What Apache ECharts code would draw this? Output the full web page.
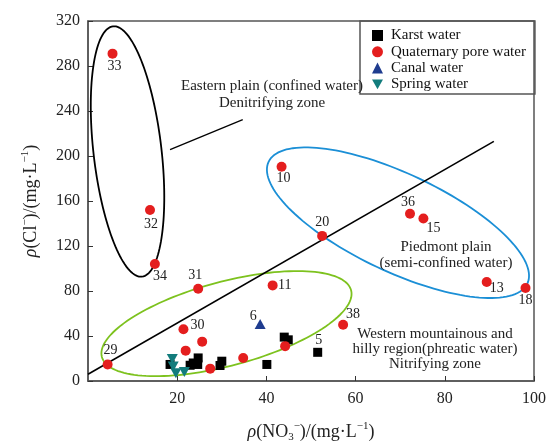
<!DOCTYPE html>
<html>
<head>
<meta charset="utf-8">
<script src="https://cdn.jsdelivr.net/npm/echarts@6/dist/echarts.min.js"></script>
<style>
  html, body { margin: 0; padding: 0; background: #fff; }
  #chart { width: 551px; height: 448px; }
</style>
</head>
<body>
<div id="chart"></div>
<script>
// Quaternary pore water (id '' = unlabelled point)
const poreX = [5.5, 13.9, 15.0, 24.7, 41.4, 21.4, 25.6, 21.9, 27.4, 34.8, 44.2, 57.2, 4.4, 43.4, 52.5, 72.2, 75.2, 89.4, 98.1];
const poreY = [291, 152, 104, 82, 85, 46, 35, 27, 11, 20.5, 31, 50, 14.7, 190.5, 129, 148.6, 144.5, 88, 82.6];
const poreId = ['33', '32', '34', '31', '11', '30', '', '', '', '', '', '38', '29', '10', '20', '36', '15', '13', '18'];

// Karst water
const karstX = [18.4, 22.9, 24.7, 24.6, 30.0, 29.6, 40.1, 44.0, 44.9, 51.5, 23.6];
const karstY = [14.7, 14, 20.5, 14.7, 17.6, 13.8, 14.7, 39, 36.6, 25.5, 16];
const karstId = ['', '', '', '', '', '', '', '', '', '5', ''];

// Canal water
const canalX = [38.6];
const canalY = [50.7];
const canalId = ['6'];

// Spring water
const springX = [18.9, 19.1, 19.7, 21.6];
const springY = [19.6, 13, 6.8, 7.9];

// dividing line and the pointer of the eastern-plain note
const dividerX = [0, 91];
const dividerY = [6, 213];
const pointerX = [18.4, 34.7];
const pointerY = [205.7, 232.3];

const xTicks = [0, 20, 40, 60, 80, 100];
const yTicks = [0, 40, 80, 120, 160, 200, 240, 280, 320];

// label offsets (px) of the numbered points
const labelOffset = {
  '33': [2, 13], '32': [1, 14], '34': [5, 12], '31': [-3, -13], '11': [12, 0],
  '30': [14, -4], '29': [3, -14], '6': [-7, -8], '5': [1, -12], '38': [10, -10],
  '10': [2, 12], '20': [0, -14], '36': [-2, -11], '15': [10, 10], '13': [10, 6], '18': [0, 12]
};

// zone ellipses: centre in data units, semi-axes in px, angle in screen degrees
const zones = [
  { cx: 8.86, cy: 204, a: 126, b: 34, angle: 83.4, color: '#000000' },
  { cx: 69.5, cy: 140.7, a: 143, b: 49, angle: 25.2, color: '#1b8fd6' },
  { cx: 31.05, cy: 51, a: 129, b: 42, angle: -15, color: '#7dc21e' }
];

const FONT = 'Liberation Serif';

function points(xs, ys, ids) {
  return xs.map((x, i) => {
    const id = ids ? ids[i] : '';
    const item = { value: [x, ys[i]] };
    if (id) {
      item.label = {
        show: true, formatter: id, position: 'inside',
        offset: labelOffset[id], color: '#222', fontFamily: FONT, fontSize: 14
      };
    }
    return item;
  });
}

function ellipseSeries(z) {
  return {
    type: 'custom',
    coordinateSystem: 'cartesian2d',
    silent: true,
    z: 1,
    data: [[z.cx, z.cy]],
    renderItem: (params, api) => {
      const c = api.coord([api.value(0), api.value(1)]);
      const th = z.angle * Math.PI / 180;
      const pts = [];
      for (let k = 0; k <= 144; k++) {
        const t = k / 144 * Math.PI * 2;
        const u = z.a * Math.cos(t), v = z.b * Math.sin(t);
        pts.push([c[0] + u * Math.cos(th) - v * Math.sin(th), c[1] + u * Math.sin(th) + v * Math.cos(th)]);
      }
      return { type: 'polyline', shape: { points: pts }, style: { stroke: z.color, lineWidth: 1.8, fill: null } };
    }
  };
}

const chart = echarts.init(document.getElementById('chart'));

const springPath = 'path://M0,0 L10,0 L5,9 Z';

const option = {
  animation: false,
  grid: { left: 88, right: 17, top: 21, bottom: 63, show: true, borderColor: '#555', borderWidth: 1.5 },
  legend: {
    orient: 'vertical', left: 360, top: 21,
    padding: [7, 9, 2, 12],
    itemGap: 1.3, itemWidth: 11, itemHeight: 11,
    borderColor: '#555', borderWidth: 1.5,
    textStyle: { fontFamily: FONT, fontSize: 15, color: '#111', lineHeight: 14, padding: [0, 0, 0, 3] },
    data: [
      { name: 'Karst water', icon: 'rect' },
      { name: 'Quaternary pore water', icon: 'circle' },
      { name: 'Canal water', icon: 'triangle' },
      { name: 'Spring water', icon: springPath }
    ]
  },
  xAxis: {
    type: 'value', min: xTicks[0], max: xTicks[xTicks.length - 1], interval: 20,
    splitLine: { show: false },
    axisLine: { lineStyle: { color: '#555', width: 1.5 } },
    axisTick: { inside: true, length: 5, lineStyle: { color: '#333' } },
    axisLabel: { showMinLabel: false, margin: 10, fontFamily: FONT, fontSize: 16, color: '#222' },
    name: '{i|ρ}(NO{sub|3}{sup|−})/(mg·L{sup|−1})',
    nameLocation: 'middle', nameGap: 40,
    nameTextStyle: {
      fontFamily: FONT, fontSize: 18, color: '#222', lineHeight: 22,
      rich: {
        i: { fontFamily: FONT, fontSize: 18, fontStyle: 'italic', color: '#222', lineHeight: 22 },
        sub: { fontFamily: FONT, fontSize: 11, color: '#222', verticalAlign: 'bottom', lineHeight: 22 },
        sup: { fontFamily: FONT, fontSize: 11, color: '#222', verticalAlign: 'top', lineHeight: 22 }
      }
    }
  },
  yAxis: {
    type: 'value', min: yTicks[0], max: yTicks[yTicks.length - 1], interval: 40,
    splitLine: { show: false },
    axisLine: { show: true, lineStyle: { color: '#555', width: 1.5 } },
    axisTick: { show: true, inside: true, length: 5, lineStyle: { color: '#333' } },
    axisLabel: { margin: 8, fontFamily: FONT, fontSize: 16, color: '#222' },
    name: '{i|ρ}(Cl{sup|−})/(mg·L{sup|−1})',
    nameLocation: 'middle', nameGap: 46, nameRotate: 90,
    nameTextStyle: {
      fontFamily: FONT, fontSize: 18, color: '#222', lineHeight: 22,
      rich: {
        i: { fontFamily: FONT, fontSize: 18, fontStyle: 'italic', color: '#222', lineHeight: 22 },
        sup: { fontFamily: FONT, fontSize: 11, color: '#222', verticalAlign: 'top', lineHeight: 22 }
      }
    }
  },
  graphic: [
    { type: 'text', x: 272, y: 95, style: { text: 'Eastern plain (confined water)\nDenitrifying zone', font: '15px "Liberation Serif"', fill: '#222', align: 'center', verticalAlign: 'middle', lineHeight: 17 }, z: 10 },
    { type: 'text', x: 446, y: 255, style: { text: 'Piedmont plain\n(semi-confined water)', font: '15px "Liberation Serif"', fill: '#222', align: 'center', verticalAlign: 'middle', lineHeight: 16 }, z: 10 },
    { type: 'text', x: 435, y: 349, style: { text: 'Western mountainous and\nhilly region(phreatic water)\nNitrifying zone', font: '15px "Liberation Serif"', fill: '#222', align: 'center', verticalAlign: 'middle', lineHeight: 15 }, z: 10 }
  ],
  series: [
    ...zones.map(ellipseSeries),
    {
      type: 'line', silent: true, symbol: 'none', z: 2,
      data: dividerX.map((x, i) => [x, dividerY[i]]),
      lineStyle: { color: '#000', width: 1.6 }
    },
    {
      type: 'line', silent: true, symbol: 'none', z: 2,
      data: pointerX.map((x, i) => [x, pointerY[i]]),
      lineStyle: { color: '#000', width: 1.3 }
    },
    {
      name: 'Karst water', type: 'scatter', symbol: 'rect', symbolSize: 9, z: 5,
      itemStyle: { color: '#000', opacity: 1 },
      data: points(karstX, karstY, karstId)
    },
    {
      name: 'Quaternary pore water', type: 'scatter', symbol: 'circle', symbolSize: 10, z: 5,
      itemStyle: { color: '#e41e1e', opacity: 1 },
      data: points(poreX, poreY, poreId)
    },
    {
      name: 'Canal water', type: 'scatter', symbol: 'triangle', symbolSize: [11, 10], z: 5,
      itemStyle: { color: '#1f3c8f', opacity: 1 },
      data: points(canalX, canalY, canalId)
    },
    {
      name: 'Spring water', type: 'scatter', symbol: springPath, symbolSize: [11, 10], z: 5,
      itemStyle: { color: '#127c7c', opacity: 1 },
      data: points(springX, springY, null)
    }
  ]
};

chart.setOption(option);
</script>
</body>
</html>
